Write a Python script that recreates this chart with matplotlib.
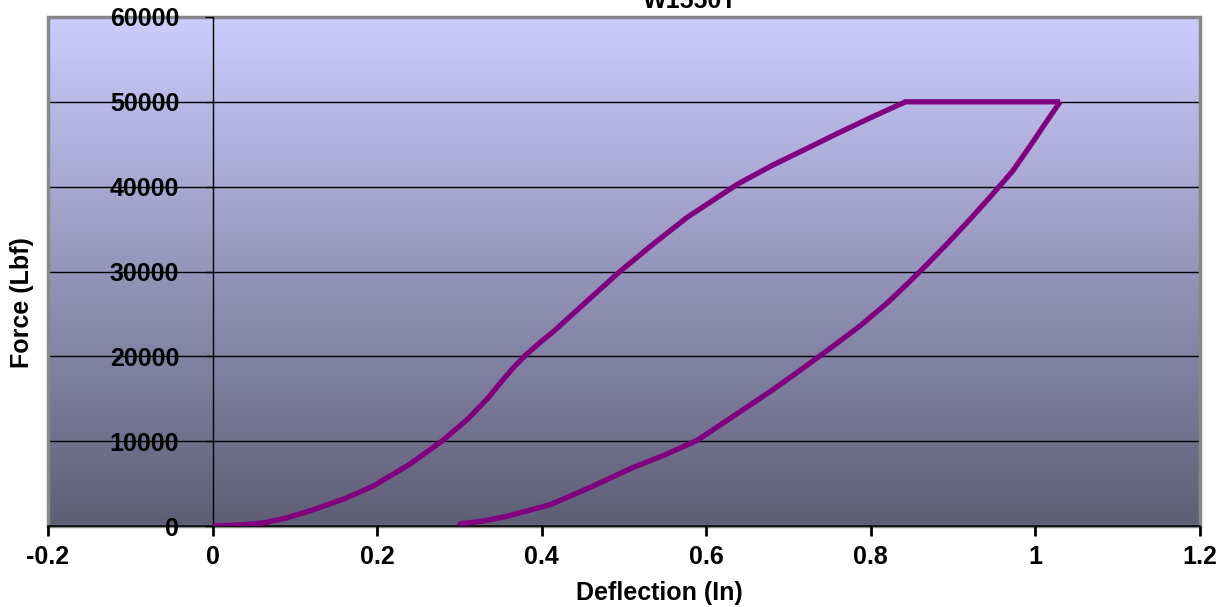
import numpy as np
import matplotlib
matplotlib.use("Agg")
import matplotlib.pyplot as plt
from matplotlib.patches import Rectangle

# ---- data ----
load_x = [0.0, 0.03, 0.061, 0.09, 0.122, 0.16, 0.195, 0.24, 0.28, 0.31, 0.334,
          0.35, 0.365, 0.38, 0.40, 0.414, 0.455, 0.495, 0.535, 0.577, 0.638, 0.68,
          0.718, 0.76, 0.799, 0.842, 1.030]
load_y = [0, 100, 350, 950, 1900, 3200, 4700, 7300, 10100, 12600, 15000,
          16900, 18600, 20100, 21800, 22900, 26500, 30000, 33200, 36400, 40300, 42500,
          44300, 46300, 48100, 50000, 50000]
unload_x = [1.030, 1.013, 0.995, 0.972, 0.946, 0.92, 0.895, 0.87, 0.846, 0.82,
            0.787, 0.75, 0.714, 0.68, 0.64, 0.589, 0.55, 0.511, 0.46, 0.41, 0.36,
            0.33, 0.301, 0.300]
unload_y = [50000, 47600, 45000, 41800, 38900, 36100, 33500, 31000, 28700, 26300,
            23600, 20900, 18350, 16000, 13400, 10100, 8400, 6900, 4600, 2500, 1200,
            600, 250, 0]
x_ticks = [-0.2, 0, 0.2, 0.4, 0.6, 0.8, 1, 1.2]
x_tick_labels = ["-0.2", "0", "0.2", "0.4", "0.6", "0.8", "1", "1.2"]
y_ticks = [0, 10000, 20000, 30000, 40000, 50000, 60000]
y_tick_labels = ["0", "10000", "20000", "30000", "40000", "50000", "60000"]
title = "W1550T"
x_label = "Deflection (In)"
y_label = "Force (Lbf)"

plt.rcParams['font.family'] = ['Liberation Sans', 'DejaVu Sans']

fig = plt.figure(figsize=(12.29, 6.07), dpi=100)
ax = fig.add_axes([48/1229, 1-526/607, (1200-48)/1229, (526-17)/607])

ax.set_xlim(-0.2, 1.2)
ax.set_ylim(0, 60000)

# gradient background
top = np.array([204, 204, 255]) / 255
bot = np.array([94, 94, 118]) / 255
t = np.linspace(0, 1, 256)[:, None]
grad = (top[None, :] * (1 - t) + bot[None, :] * t)[:, None, :]
ax.imshow(grad, extent=[0, 1, 0, 1], transform=ax.transAxes, aspect='auto',
          zorder=0, interpolation='bilinear')

# grid lines
for yv in y_ticks[1:-1]:
    ax.axhline(yv, color='black', lw=1.0, zorder=1)

# grey frame
ax.add_patch(Rectangle((0, 0), 1, 1, transform=ax.transAxes, fill=False,
                       edgecolor='#888888', lw=2.5, zorder=1.5, clip_on=False))

ax.plot(load_x, load_y, color='#800080', lw=3.8, zorder=3, solid_joinstyle='round',
        solid_capstyle='butt')
ax.plot(unload_x, unload_y, color='#800080', lw=3.8, zorder=3, solid_joinstyle='round',
        solid_capstyle='butt')

# spines
for s in ['top', 'right']:
    ax.spines[s].set_visible(False)
ax.spines['left'].set_position(('data', 0))
ax.spines['left'].set_color('black')
ax.spines['left'].set_linewidth(1.0)
ax.spines['left'].set_zorder(2)
ax.spines['bottom'].set_color('black')
ax.spines['bottom'].set_linewidth(1.2)
ax.spines['bottom'].set_zorder(2)

ax.set_xticks(x_ticks)
ax.set_xticklabels(x_tick_labels)
ax.set_yticks(y_ticks)
ax.set_yticklabels(y_tick_labels)
ax.tick_params(axis='x', direction='out', length=7, width=2, pad=7,
               labelsize=18)
ax.tick_params(axis='y', direction='out', length=6, width=1, pad=18,
               labelsize=18)
for lab in ax.get_xticklabels() + ax.get_yticklabels():
    lab.set_fontweight('bold')

fig.text(659/1229, 1-593/607, x_label, fontsize=18, fontweight='bold',
         ha='center', va='center')
fig.text(22/1229, 1-303/607, y_label, rotation=90, fontsize=18,
         fontweight='bold', ha='center', va='center')
fig.text(690/1229, 1-8/607, title, fontsize=18, fontweight='bold',
         ha='center', va='baseline')

fig.savefig("out.png", dpi=100)
